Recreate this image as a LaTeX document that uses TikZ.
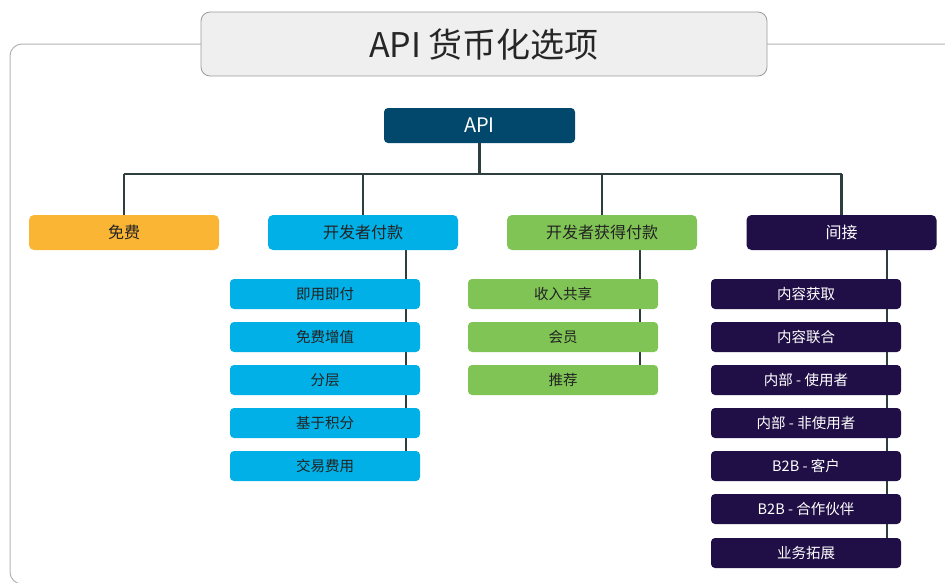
\documentclass[tikz,border=0pt]{standalone}
\usepackage{fontspec}
\setmainfont{Noto Sans CJK SC}
\usetikzlibrary{backgrounds}
\definecolor{frameline}{HTML}{B4B4B4}
\definecolor{titlefill}{HTML}{EFEFEF}
\definecolor{titleline}{HTML}{9A9A9A}
\definecolor{apiblue}{HTML}{02486C}
\definecolor{cfree}{HTML}{FBB534}
\definecolor{cblue}{HTML}{00B0E6}
\definecolor{cgreen}{HTML}{80C455}
\definecolor{cpurple}{HTML}{200F47}
\definecolor{conn}{HTML}{2E3D3D}
\definecolor{darktext}{HTML}{222222}
\tikzset{
  topbox/.style={draw=none, rounded corners=5pt, minimum width=190pt, minimum height=35pt, inner sep=0pt, font=\fontsize{16}{18}\selectfont},
  childbox/.style={draw=none, rounded corners=4pt, minimum width=190pt, minimum height=30pt, inner sep=0pt, font=\fontsize{14.5}{16}\selectfont},
  connline/.style={draw=conn, line width=2.2pt},
}
\begin{document}
\begin{tikzpicture}[x=1pt, y=-1pt]
\useasboundingbox (0,0) rectangle (945,582);
\begin{scope}
\clip (0,0) rectangle (945,582);
\draw[frameline, line width=1pt, rounded corners=12pt] (10,44) rectangle (960,584);
\end{scope}
% title
\node[draw=titleline, fill=titlefill, rounded corners=9pt, line width=0.8pt, minimum width=566pt, minimum height=64pt, inner sep=0pt, font=\fontsize{34}{38}\selectfont, text=black!85] (title) at (484,44) {API 货币化选项};
% root
\node[fill=apiblue, rounded corners=4pt, minimum width=191pt, minimum height=35pt, inner sep=0pt, text=white, font=\fontsize{20}{22}\selectfont] (api) at (479.5,125.5) {API};
% top level
\node[topbox, fill=cfree, text=darktext] (free) at (124,232.5) {免费};
\node[topbox, fill=cblue, text=darktext] (devpay) at (363,232.5) {开发者付款};
\node[topbox, fill=cgreen, text=darktext] (devget) at (602,232.5) {开发者获得付款};
\node[topbox, fill=cpurple, text=white] (indirect) at (841.5,232.5) {间接};
% blue children
\node[childbox, fill=cblue, text=darktext] (b1) at (325,294) {即用即付};
\node[childbox, fill=cblue, text=darktext] (b2) at (325,337) {免费增值};
\node[childbox, fill=cblue, text=darktext] (b3) at (325,380) {分层};
\node[childbox, fill=cblue, text=darktext] (b4) at (325,423) {基于积分};
\node[childbox, fill=cblue, text=darktext] (b5) at (325,466) {交易费用};
% green children
\node[childbox, fill=cgreen, text=darktext] (g1) at (563,294) {收入共享};
\node[childbox, fill=cgreen, text=darktext] (g2) at (563,337) {会员};
\node[childbox, fill=cgreen, text=darktext] (g3) at (563,380) {推荐};
% purple children
\node[childbox, fill=cpurple, text=white] (p1) at (806,294) {内容获取};
\node[childbox, fill=cpurple, text=white] (p2) at (806,337) {内容联合};
\node[childbox, fill=cpurple, text=white] (p3) at (806,380) {内部 - 使用者};
\node[childbox, fill=cpurple, text=white] (p4) at (806,423) {内部 - 非使用者};
\node[childbox, fill=cpurple, text=white] (p5) at (806,466) {B2B - 客户};
\node[childbox, fill=cpurple, text=white] (p6) at (806,509) {B2B - 合作伙伴};
\node[childbox, fill=cpurple, text=white] (p7) at (806,553) {业务拓展};
% connectors
\coordinate (bus) at (479.5,174);
\coordinate (bx) at (406,0);
\coordinate (gx) at (640,0);
\coordinate (px) at (887,0);
\begin{scope}[on background layer]
\draw[connline] (api.south) -- (bus);
\draw[connline] (free.north |- bus) -- (indirect.north |- bus);
\draw[connline] (free.north) -- (free.north |- bus);
\draw[connline] (devpay.north) -- (devpay.north |- bus);
\draw[connline] (devget.north) -- (devget.north |- bus);
\draw[connline] (indirect.north) -- (indirect.north |- bus);
\draw[connline] (devpay.south -| bx) -- (b5.center -| bx);
\draw[connline] (devget.south -| gx) -- (g3.center -| gx);
\draw[connline] (indirect.south -| px) -- (p7.center -| px);
\end{scope}
\end{tikzpicture}
\end{document}
